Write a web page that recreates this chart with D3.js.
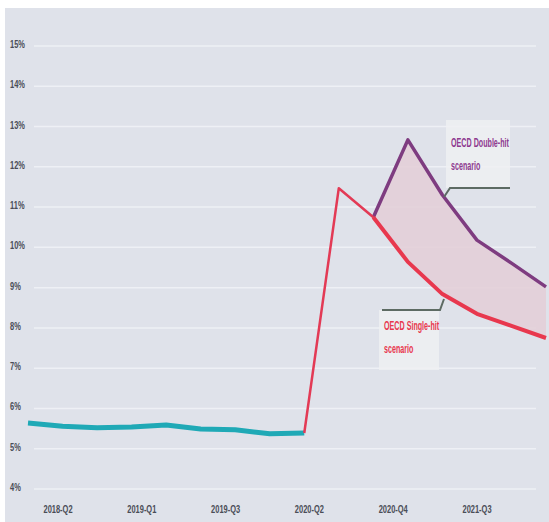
<!DOCTYPE html>
<html>
<head>
<meta charset="utf-8">
<script src="https://cdn.jsdelivr.net/npm/d3@7"></script>
<style>
  body { margin: 0; background: #ffffff; }
  svg { display: block; }
</style>
</head>
<body>
<svg id="chart" width="549" height="522"></svg>
<script>
// quarters on the x axis
var quarters = ["2018-Q1", "2018-Q2", "2018-Q3", "2018-Q4",
                "2019-Q1", "2019-Q2", "2019-Q3", "2019-Q4",
                "2020-Q1", "2020-Q2", "2020-Q3", "2020-Q4",
                "2021-Q1", "2021-Q2", "2021-Q3", "2021-Q4"];

// unemployment rate, %
var pastRate = [5.59, 5.51, 5.47, 5.49, 5.54, 5.44, 5.42, 5.32, 5.34];   // 2018-Q1 .. 2020-Q1
var outbreak = [5.34, 11.42, 10.70];                                    // 2020-Q1 .. 2020-Q3
var singleHit = [10.70, 9.59, 8.79, 8.30, 8.00, 7.70];                  // 2020-Q3 .. 2021-Q4
var doubleHit = [10.70, 12.62, 11.25, 10.13, 9.56, 8.97];               // 2020-Q3 .. 2021-Q4

var yTicks = [4, 5, 6, 7, 8, 9, 10, 11, 12, 13, 14, 15];
var xLabels = ["2018-Q2", "2019-Q1", "2019-Q3", "2020-Q2", "2020-Q4", "2021-Q3"];

var svg = d3.select("#chart");

// panel background
svg.append("rect")
    .attr("x", 5).attr("y", 8)
    .attr("width", 544).attr("height", 514)
    .attr("fill", "#dfe2ea");

var x = d3.scalePoint().domain(quarters).range([28, 546]);
var y = d3.scaleLinear().domain([4, 15]).range([487, 44]);
var xLab = d3.scalePoint().domain(xLabels).range([58, 477]);

var font = "'Liberation Sans', Arial, sans-serif";
var squeeze = 0.68;

// gridlines
svg.append("g").selectAll("line")
    .data(yTicks)
    .enter().append("line")
    .attr("x1", 34).attr("x2", 536)
    .attr("y1", function(d) { return y(d) + 2; })
    .attr("y2", function(d) { return y(d) + 2; })
    .attr("stroke", "#eef0f5")
    .attr("stroke-width", 1.5);

// y labels
svg.append("g").selectAll("text")
    .data(yTicks)
    .enter().append("text")
    .attr("transform", function(d) {
        return "translate(10," + (y(d) + 4) + ") scale(" + squeeze + ",1)";
    })
    .attr("font-family", font)
    .attr("font-size", 11)
    .attr("font-weight", "bold")
    .attr("fill", "#4a4d57")
    .text(function(d) { return d + "%"; });

// x labels
svg.append("g").selectAll("text")
    .data(xLabels)
    .enter().append("text")
    .attr("transform", function(d) {
        return "translate(" + xLab(d) + ",513) scale(" + squeeze + ",1)";
    })
    .attr("text-anchor", "middle")
    .attr("font-family", font)
    .attr("font-size", 11)
    .attr("font-weight", "bold")
    .attr("fill", "#4a4d57")
    .text(function(d) { return d; });

var histQ = quarters.slice(0, 9);
var outQ = quarters.slice(8, 11);
var scenQ = quarters.slice(10);

// band between the two scenarios
var band = d3.area()
    .x(function(d, i) { return x(scenQ[i]); })
    .y0(function(d, i) { return y(singleHit[i]); })
    .y1(function(d) { return y(d); });

svg.append("path")
    .datum(doubleHit)
    .attr("d", band)
    .attr("fill", "#e3cfd8")
    .attr("opacity", 0.9);

function lineFor(keys) {
    return d3.line()
        .x(function(d, i) { return x(keys[i]); })
        .y(function(d) { return y(d); });
}

svg.append("path")
    .datum(pastRate)
    .attr("d", lineFor(histQ))
    .attr("fill", "none")
    .attr("stroke", "#1fa9b6")
    .attr("stroke-width", 5)
    .attr("stroke-linejoin", "round");

svg.append("path")
    .datum(doubleHit)
    .attr("d", lineFor(scenQ))
    .attr("fill", "none")
    .attr("stroke", "#7e3c80")
    .attr("stroke-width", 3.5)
    .attr("stroke-linejoin", "round");

svg.append("path")
    .datum(singleHit)
    .attr("d", lineFor(scenQ))
    .attr("fill", "none")
    .attr("stroke", "#e8384e")
    .attr("stroke-width", 4)
    .attr("stroke-linejoin", "round");

svg.append("path")
    .datum(outbreak)
    .attr("d", lineFor(outQ))
    .attr("fill", "none")
    .attr("stroke", "#e33a55")
    .attr("stroke-width", 2.5)
    .attr("stroke-linejoin", "round");

// annotations
function callout(bx, by, bw, bh, ty, lines, color, lead) {
    var g = svg.append("g");
    g.append("rect")
        .attr("x", bx).attr("y", by)
        .attr("width", bw).attr("height", bh)
        .attr("fill", "#eef0f2")
        .attr("opacity", 0.85);
    g.append("path")
        .attr("d", d3.line()(lead))
        .attr("fill", "none")
        .attr("stroke", "#5d6b63")
        .attr("stroke-width", 2);
    g.selectAll("text")
        .data(lines)
        .enter().append("text")
        .attr("transform", function(d, i) {
            return "translate(" + (bx + 5) + "," + (by + ty + i * 23) + ") scale(0.55,1)";
        })
        .attr("font-family", font)
        .attr("font-size", 13)
        .attr("font-weight", "bold")
        .attr("fill", color)
        .text(function(d) { return d; });
}

callout(446, 120, 64, 68, 27, ["OECD Double-hit", "scenario"], "#8e3a8f",
    [[510, 188], [450, 188], [444, 197]]);
callout(379, 310, 60, 60, 20, ["OECD Single-hit", "scenario"], "#e8384e",
    [[382, 310], [440, 310], [444, 299]]);
</script>
</body>
</html>
